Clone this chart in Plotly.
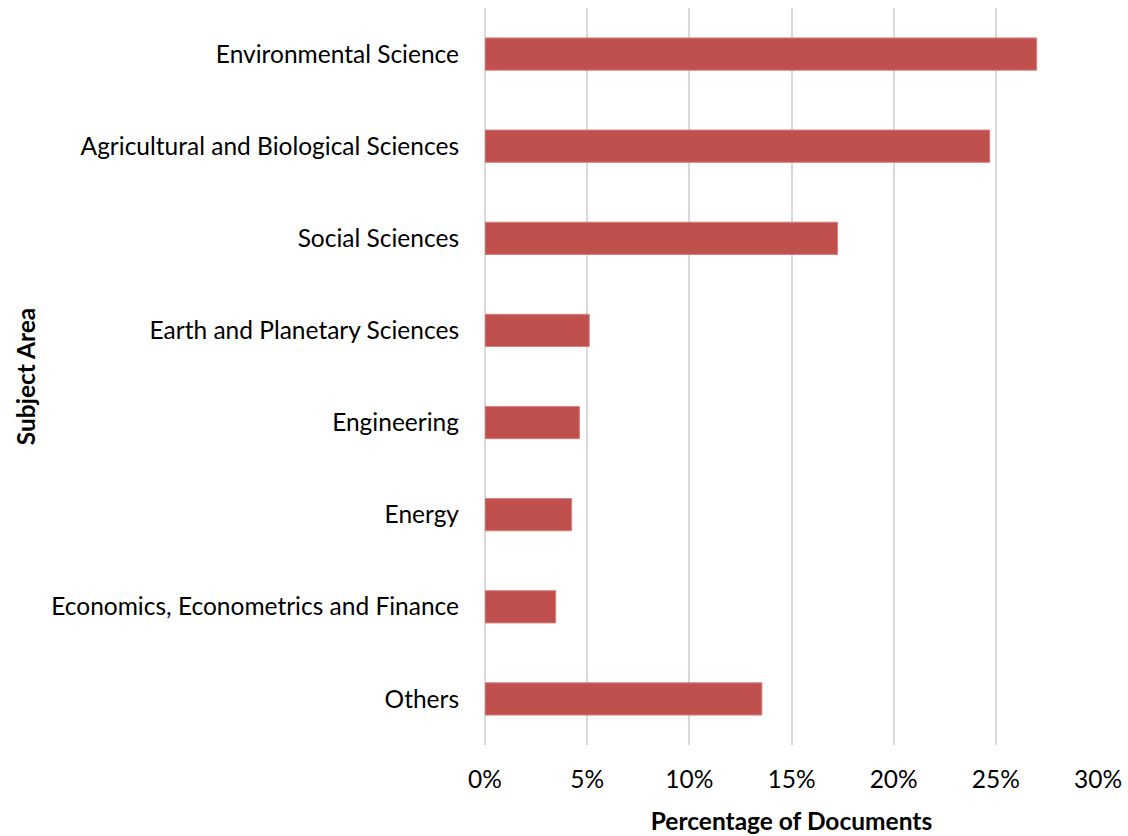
import plotly.graph_objects as go

categories = [
    "Environmental Science",
    "Agricultural and Biological Sciences",
    "Social Sciences",
    "Earth and Planetary Sciences",
    "Engineering",
    "Energy",
    "Economics, Econometrics and Finance",
    "Others",
]
percentages = [27.0, 24.7, 17.25, 5.1, 4.62, 4.24, 3.46, 13.55]
x_tickvals = [0, 5, 10, 15, 20, 25, 30]
x_ticktext = ["0%", "5%", "10%", "15%", "20%", "25%", "30%"]

FONT = "Lato"
FS = 24.5
fig = go.Figure(
    go.Bar(
        x=percentages,
        y=categories,
        orientation="h",
        marker=dict(color="#C0504D", line=dict(color="#D47F7D", width=1)),
        width=0.35,
    )
)

fig.update_layout(
    width=1128,
    height=836,
    margin=dict(l=485, r=30, t=8, b=91),
    plot_bgcolor="white",
    paper_bgcolor="white",
    showlegend=False,
    font=dict(family=FONT, size=FS, color="#000000"),
)
fig.update_xaxes(
    range=[0, 30],
    tickvals=x_tickvals,
    ticktext=x_ticktext,
    showgrid=True,
    gridcolor="#D9D9D9",
    gridwidth=2,
    zeroline=True,
    zerolinecolor="#D9D9D9",
    zerolinewidth=2,
    showline=False,
    ticks="",
    ticklabelstandoff=17,
    tickfont=dict(size=FS),
    title=dict(text="<b>Percentage of Documents</b>", font=dict(size=FS), standoff=21),
    automargin=False,
)
fig.update_yaxes(
    categoryorder="array",
    categoryarray=categories,
    autorange="reversed",
    showgrid=False,
    zeroline=False,
    showline=False,
    ticks="",
    ticklabelstandoff=25,
    tickfont=dict(size=FS),
    title=dict(text="<b>Subject Area</b>", font=dict(size=FS), standoff=8),
    automargin=False,
)

fig.write_html("out.html")
